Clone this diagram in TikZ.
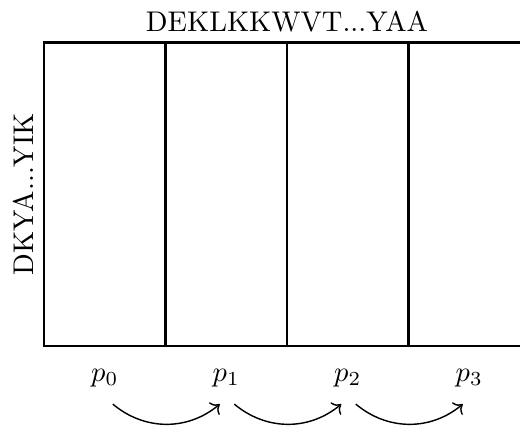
\documentclass[tikz,border=0pt]{standalone}
\usepackage{amsmath,amssymb}
\usepackage{tikz}
\usetikzlibrary{arrows.meta,calc,positioning}
\tikzset{
  cell/.style  = {line width=1pt},
  hop/.style   = {->, line width=0.5pt, bend right=40},
  plabel/.style = {inner sep=3pt},
}

\begin{document}
\begin{tikzpicture}[x=1cm,y=1cm]
  \useasboundingbox (-0.543,-1.037) rectangle (5.877,4.272);
  \coordinate (O) at (0,0);
  \coordinate (T) at (6,3.75);
  \draw[cell] (O) rectangle (T);
  \foreach \i in {1,2,3}
    \draw[cell] (1.5*\i,0) -- (1.5*\i,3.75);
  \node[above] (top) at ($(O|-T)!0.5!(T)$) {DEKLKKWVT...YAA};
  \node[rotate=90,anchor=south] (side) at (0,1.875) {DKYA...YIK};
  \foreach \i in {0,1,2,3}
    \node[plabel] (p\i) at (0.75+1.5*\i,-0.395) {$p_{\i}$};
  \foreach \i/\j in {0/1,1/2,2/3}
    \draw[hop] ($(p\i.south)+(0.1,-0.1)$) to ($(p\j.south)+(-0.08,-0.1)$);
\end{tikzpicture}
\end{document}
